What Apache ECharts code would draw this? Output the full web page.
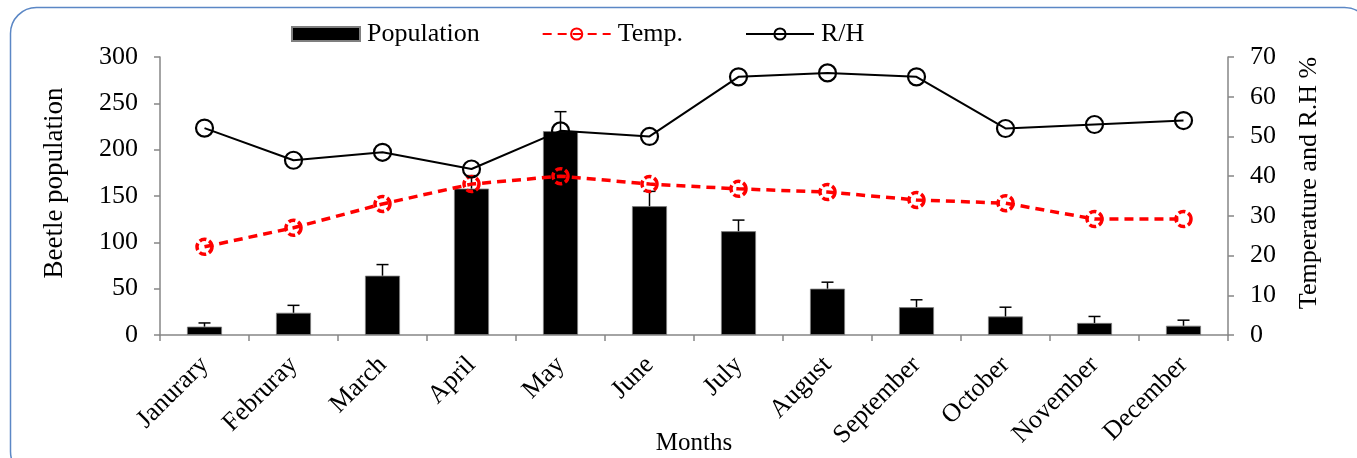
<!DOCTYPE html>
<html><head><meta charset="utf-8">
<script src="https://cdn.jsdelivr.net/npm/echarts@6/dist/echarts.min.js"></script>
<style>html,body{margin:0;padding:0;background:#fff;}#c{width:1357px;height:458px;}</style>
</head><body><div id="c"></div>
<script>
const months = ['Janurary','Februray','March','April','May','June','July','August','September','October','November','December'];
const population = [9, 24, 64, 158, 220, 139, 112, 50, 30, 20, 13, 10];
const popErrorTop = [13, 32, 76, 172, 241, 155, 124, 57, 38, 30, 20, 16];
const temp = [22.2, 27, 33, 38, 40, 38, 36.8, 36, 34, 33.2, 29.2, 29.2];
const rh = [52.1, 44, 46, 41.8, 51.4, 50, 65, 66, 65, 52, 53, 54];
const leftTicks = {min: 0, max: 300, interval: 50};
const rightTicks = {min: 0, max: 70, interval: 10};

const font = '"Liberation Serif","Times New Roman",serif';
const chart = echarts.init(document.getElementById('c'));
const errData = population.map((v, i) => [i, v, popErrorTop[i]]);
chart.setOption({
  animation: false,
  textStyle: {fontFamily: font},
  graphic: [{
    type: 'rect', left: 8, top: 5,
    shape: {width: 1360, height: 470, r: 26},
    style: {fill: 'none', stroke: '#5b87c5', lineWidth: 1.5},
    z: -1
  }],
  legend: {
    top: 16, left: 286,
    itemWidth: 68, itemHeight: 14, itemGap: 62,
    textStyle: {fontFamily: font, fontSize: 26, color: '#000', padding: [0, 0, 0, 2]},
    data: [
      {name: 'Population', icon: 'rect'},
      {name: 'Temp.'},
      {name: 'R/H'}
    ]
  },
  grid: {left: 160, right: 129, top: 57, bottom: 123, containLabel: false, outerBoundsMode: 'none'},
  xAxis: {
    type: 'category', data: months,
    name: 'Months', nameLocation: 'middle', nameGap: 108, nameMoveOverlap: false,
    nameTextStyle: {fontFamily: font, fontSize: 25, color: '#000', verticalAlign: 'middle'},
    axisLine: {lineStyle: {color: '#868686', width: 1.5}},
    axisTick: {show: true, length: 6, lineStyle: {color: '#868686', width: 1.5}},
    axisLabel: {rotate: 45, fontFamily: font, fontSize: 26, color: '#000', margin: 26, interval: 0}
  },
  yAxis: [{
    type: 'value', min: leftTicks.min, max: leftTicks.max, interval: leftTicks.interval,
    name: 'Beetle population', nameLocation: 'middle', nameGap: 92, nameRotate: 90, nameMoveOverlap: false,
    nameTextStyle: {fontFamily: font, fontSize: 27, color: '#000', padding: [0, 0, 0, 26]},
    axisLine: {show: true, lineStyle: {color: '#868686', width: 1.5}},
    axisTick: {show: true, length: 6, lineStyle: {color: '#868686', width: 1.5}},
    splitLine: {show: false},
    axisLabel: {fontFamily: font, fontSize: 26, color: '#000', margin: 22}
  }, {
    type: 'value', min: rightTicks.min, max: rightTicks.max, interval: rightTicks.interval,
    name: 'Temperature and R.H %', nameLocation: 'middle', nameGap: 68, nameRotate: 90, nameMoveOverlap: false,
    nameTextStyle: {fontFamily: font, fontSize: 26, color: '#000', padding: [0, 0, 0, 26]},
    axisLine: {show: true, lineStyle: {color: '#868686', width: 1.5}},
    axisTick: {show: true, length: 6, lineStyle: {color: '#868686', width: 1.5}},
    splitLine: {show: false},
    axisLabel: {fontFamily: font, fontSize: 26, color: '#000', margin: 22}
  }],
  series: [{
    name: 'Population', type: 'bar', data: population, barWidth: 35,
    itemStyle: {color: '#000', borderColor: '#7f7f7f', borderWidth: 0.8}, z: 2
  }, {
    name: 'PopErr', type: 'custom', data: errData, z: 3,
    renderItem: function (params, api) {
      const i = api.value(0);
      const b = api.coord([i, api.value(1)]);
      const t = api.coord([i, api.value(2)]);
      const cap = 6;
      return {type: 'group', children: [
        {type: 'line', shape: {x1: b[0], y1: b[1], x2: t[0], y2: t[1]}, style: {stroke: '#000', lineWidth: 1.5}},
        {type: 'line', shape: {x1: t[0] - cap, y1: t[1], x2: t[0] + cap, y2: t[1]}, style: {stroke: '#000', lineWidth: 1.5}}
      ]};
    }
  }, {
    name: 'Temp.', type: 'line', yAxisIndex: 1, data: temp,
    symbol: 'circle', symbolSize: 15,
    lineStyle: {color: '#ff0000', width: 3.5, type: [9, 6]},
    itemStyle: {color: 'rgba(0,0,0,0)', borderColor: '#ff0000', borderWidth: 3.5, borderType: [7, 3]}, z: 4
  }, {
    name: 'R/H', type: 'line', yAxisIndex: 1, data: rh,
    symbol: 'circle', symbolSize: 17,
    lineStyle: {color: '#000', width: 2},
    itemStyle: {color: 'rgba(0,0,0,0)', borderColor: '#000', borderWidth: 2.2}, z: 5
  }]
});
</script></body></html>
